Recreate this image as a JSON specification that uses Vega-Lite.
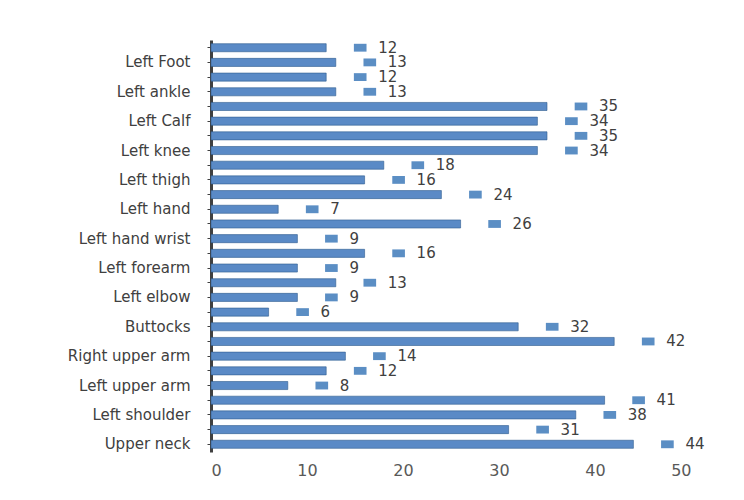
{
  "$schema": "https://vega.github.io/schema/vega-lite/v6.json",
  "width": 480,
  "height": 412,
  "autosize": "none",
  "padding": {"left": 211, "top": 40, "right": 53, "bottom": 48},
  "background": "white",
  "data": {
    "values": [
      {"part": "Upper neck", "order": 0, "value": 44},
      {"part": "Lower neck", "order": 1, "value": 31},
      {"part": "Left shoulder", "order": 2, "value": 38},
      {"part": "Right shoulder", "order": 3, "value": 41},
      {"part": "Left upper arm", "order": 4, "value": 8},
      {"part": "Upper back", "order": 5, "value": 12},
      {"part": "Right upper arm", "order": 6, "value": 14},
      {"part": "Lower back", "order": 7, "value": 42},
      {"part": "Buttocks", "order": 8, "value": 32},
      {"part": "Right elbow", "order": 9, "value": 6},
      {"part": "Left elbow", "order": 10, "value": 9},
      {"part": "Right forearm", "order": 11, "value": 13},
      {"part": "Left forearm", "order": 12, "value": 9},
      {"part": "Right hand wrist", "order": 13, "value": 16},
      {"part": "Left hand wrist", "order": 14, "value": 9},
      {"part": "Right hand", "order": 15, "value": 26},
      {"part": "Left hand", "order": 16, "value": 7},
      {"part": "Right hip", "order": 17, "value": 24},
      {"part": "Left thigh", "order": 18, "value": 16},
      {"part": "Right thigh", "order": 19, "value": 18},
      {"part": "Left knee", "order": 20, "value": 34},
      {"part": "Right knee", "order": 21, "value": 35},
      {"part": "Left Calf", "order": 22, "value": 34},
      {"part": "Right Calf", "order": 23, "value": 35},
      {"part": "Left ankle", "order": 24, "value": 13},
      {"part": "Right ankle", "order": 25, "value": 12},
      {"part": "Left Foot", "order": 26, "value": 13},
      {"part": "Right Foot", "order": 27, "value": 12}
    ]
  },
  "encoding": {
    "y": {
      "field": "part",
      "type": "nominal",
      "sort": {"field": "order", "order": "descending"},
      "scale": {"paddingInner": 0.45, "paddingOuter": 0.25},
      "axis": {
        "title": null,
        "labelExpr": "indexof(['Upper neck','Left shoulder','Left upper arm','Right upper arm','Buttocks','Left elbow','Left forearm','Left hand wrist','Left hand','Left thigh','Left knee','Left Calf','Left ankle','Left Foot'], datum.value) >= 0 ? datum.value : ''",
        "labelFont": "DejaVu Sans",
        "labelFontSize": 15,
        "labelColor": "#404040",
        "labelPadding": 17,
        "domainColor": "#404040",
        "domainWidth": 3,
        "tickColor": "#404040",
        "tickSize": 4,
        "tickWidth": 1,
        "grid": false,
        "labelOverlap": false
      }
    },
    "x": {
      "field": "value",
      "type": "quantitative",
      "scale": {"domain": [0, 50], "nice": false},
      "axis": {
        "title": null,
        "values": [0, 10, 20, 30, 40, 50],
        "labelFont": "DejaVu Sans",
        "labelFontSize": 16,
        "labelColor": "#595959",
        "labelPadding": 10,
        "domain": false,
        "ticks": false,
        "grid": false
      }
    }
  },
  "layer": [
    {
      "mark": {"type": "bar", "color": "#5a8ac6", "stroke": "#2f5d8f", "strokeWidth": 0.6}
    },
    {
      "mark": {
        "type": "point",
        "shape": "M-1,-0.62H1V0.62H-1Z",
        "size": 160,
        "filled": true,
        "opacity": 1,
        "color": "#5b8ec4",
        "xOffset": 34
      }
    },
    {
      "mark": {
        "type": "text",
        "align": "left",
        "baseline": "middle",
        "dx": 52,
        "font": "DejaVu Sans",
        "fontSize": 15,
        "color": "#404040"
      },
      "encoding": {"text": {"field": "value", "type": "quantitative"}}
    }
  ],
  "config": {"view": {"stroke": null}}
}
